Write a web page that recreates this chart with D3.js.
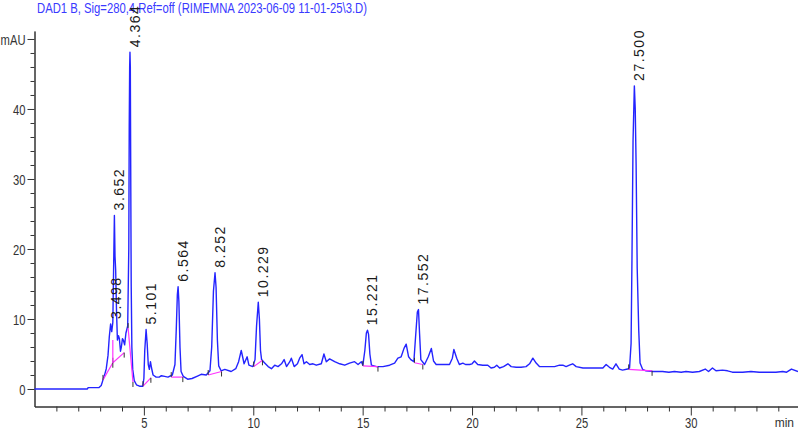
<!DOCTYPE html>
<html>
<head>
<meta charset="utf-8">
<script src="https://cdn.jsdelivr.net/npm/d3@7"></script>
<style>
  html, body { margin: 0; padding: 0; background: #ffffff; }
  svg { display: block; }
</style>
</head>
<body>
<svg id="chart" width="798" height="433"></svg>
<script>
// ---- DATA ----
const titleText = "DAD1 B, Sig=280,4 Ref=off (RIMEMNA 2023-06-09 11-01-25\\3.D)";
const xMajorTicks = [5, 10, 15, 20, 25, 30];
const yMajorTicks = [0, 10, 20, 30, 40, 50];
const yTopLabel = "mAU";
const xUnitLabel = "min";

// retention time (min)
const traceTime = [0, 1, 2, 2.42, 2.45, 2.95, 3.05, 3.13, 3.22, 3.28, 3.36, 3.42, 3.48, 3.53, 3.58, 3.62, 3.652, 3.68, 3.71, 3.75, 3.79, 3.84, 3.88, 3.93, 3.97, 4.02, 4.06, 4.12, 4.18, 4.26, 4.31, 4.33, 4.35, 4.364, 4.38, 4.40, 4.42, 4.45, 4.49, 4.56, 4.66, 4.8, 4.95, 5.0, 5.04, 5.101, 5.15, 5.2, 5.25, 5.3, 5.35, 5.42, 5.56, 5.7, 5.8, 5.95, 6.1, 6.3, 6.42, 6.48, 6.53, 6.564, 6.6, 6.65, 6.7, 6.8, 7.0, 7.2, 7.45, 7.62, 7.85, 8.02, 8.1, 8.18, 8.252, 8.3, 8.36, 8.42, 8.53, 8.7, 8.99, 9.2, 9.33, 9.45, 9.52, 9.58, 9.72, 9.8, 9.98, 10.08, 10.15, 10.229, 10.28, 10.33, 10.38, 10.5, 10.68, 10.83, 10.98, 11.13, 11.29, 11.41, 11.52, 11.67, 11.74, 11.87, 12.02, 12.12, 12.23, 12.32, 12.43, 12.58, 12.73, 12.88, 13.11, 13.23, 13.34, 13.49, 13.72, 13.95, 14.18, 14.4, 14.63, 14.79, 14.94, 15.01, 15.1, 15.17, 15.221, 15.27, 15.33, 15.4, 15.63, 15.93, 16.23, 16.46, 16.61, 16.76, 16.89, 16.99, 17.1, 17.2, 17.34, 17.42, 17.5, 17.552, 17.6, 17.66, 17.83, 18.0, 18.14, 18.24, 18.36, 18.67, 18.97, 19.1, 19.17, 19.3, 19.42, 19.58, 19.7, 19.89, 20.0, 20.11, 20.26, 20.49, 20.72, 20.87, 21.02, 21.13, 21.26, 21.44, 21.64, 21.79, 22.02, 22.24, 22.47, 22.63, 22.78, 22.93, 23.08, 23.39, 23.77, 24.0, 24.15, 24.3, 24.45, 24.6, 24.76, 25.07, 25.52, 25.98, 26.13, 26.28, 26.43, 26.58, 26.73, 26.88, 27.11, 27.2, 27.27, 27.31, 27.36, 27.42, 27.46, 27.5, 27.55, 27.62, 27.68, 27.8, 27.95, 28.25, 28.71, 29.0, 29.25, 29.56, 29.78, 30.08, 30.39, 30.66, 30.81, 30.99, 31.15, 31.45, 31.68, 31.9, 32.37, 32.75, 33.13, 33.5, 33.89, 34.2, 34.38, 34.6, 34.9];
// absorbance (mAU)
const traceSignal = [0, 0, 0, 0, 0.2, 0.2, 0.5, 1.3, 2.2, 2.9, 4.8, 7.5, 9.3, 8.2, 9.5, 18, 24.8, 19, 17.0, 11.0, 7.0, 7.6, 7.2, 5.4, 6.0, 7.2, 7.0, 6.3, 8.0, 9.0, 20, 37.5, 46, 48.1, 46, 30, 15, 6, 2.8, 1.2, 0.6, 0.4, 0.4, 1.5, 5.5, 8.5, 6.5, 3.5, 2.8, 3.9, 3.0, 2.0, 1.7, 1.7, 1.9, 1.8, 1.7, 2.0, 3.5, 8.5, 13.5, 14.6, 12.5, 6.0, 2.5, 1.8, 1.4, 1.5, 1.85, 2.1, 2.0, 2.6, 6.0, 14.0, 16.6, 14.5, 7.0, 3.3, 2.6, 2.8, 2.5, 2.9, 3.9, 5.5, 4.5, 3.6, 4.6, 3.4, 3.2, 4.2, 9.0, 12.4, 10.0, 5.5, 4.2, 3.8, 3.2, 2.9, 3.4, 3.2, 3.6, 4.2, 3.2, 3.9, 4.4, 3.2, 3.6, 4.4, 4.9, 3.6, 3.9, 3.5, 3.6, 3.4, 3.6, 5.0, 3.9, 4.3, 3.9, 3.6, 3.4, 3.7, 3.9, 3.5, 3.9, 3.4, 5.5, 8.0, 8.4, 7.8, 5.0, 3.4, 3.2, 3.2, 3.4, 3.7, 4.4, 4.6, 5.8, 6.4, 4.6, 4.2, 3.9, 7.5, 11.0, 11.35, 8.0, 4.2, 3.5, 4.6, 5.8, 4.0, 3.5, 3.5, 3.5, 4.4, 5.65, 4.4, 3.5, 3.7, 3.5, 3.5, 3.6, 4.0, 3.5, 3.4, 3.4, 3.0, 3.1, 3.4, 3.0, 3.2, 3.6, 3.2, 3.1, 3.1, 3.2, 3.6, 4.4, 3.7, 3.2, 3.2, 3.2, 3.4, 3.4, 3.2, 3.4, 3.6, 3.2, 3.0, 3.0, 3.0, 3.5, 3.1, 2.85, 3.6, 2.85, 2.7, 2.85, 3.0, 6.5, 18.4, 35.5, 43.3, 40, 32, 17.2, 8.4, 3.7, 2.8, 2.6, 2.5, 2.5, 2.4, 2.5, 2.4, 2.5, 2.4, 2.5, 2.85, 2.5, 3.0, 2.6, 2.7, 2.6, 2.4, 2.4, 2.5, 2.4, 2.4, 2.4, 2.5, 2.4, 2.85, 2.5];

// integrated peaks
const peakTimes = [3.498, 3.652, 4.364, 5.101, 6.564, 8.252, 10.229, 15.221, 17.552, 27.42];
const peakLabels = ["3.498", "3.652", "4.364", "5.101", "6.564", "8.252", "10.229", "15.221", "17.552", "27.500"];

// integration baselines: [tStart, vStart, tEnd, vEnd]
const baselineSegments = [
  [3.13, 1.3, 3.58, 3.75],
  [3.58, 3.75, 4.1, 5.2],
  [4.28, 8.7, 4.5, 1.0],
  [4.96, 0.4, 5.32, 1.6],
  [6.25, 1.7, 6.78, 1.7],
  [7.94, 2.0, 8.55, 2.5],
  [10.02, 3.2, 10.42, 4.1],
  [15.01, 3.3, 15.7, 3.2],
  [17.37, 3.75, 17.75, 3.5],
  [27.16, 2.8, 28.23, 2.6]
];
// vertical drop lines: [t, vLow, vHigh]
const dropLines = [[3.58, 3.75, 7.0]];

// ---- CHART ----
const svg = d3.select("#chart");
const x = d3.scaleLinear().domain([0, 34.9]).range([34.5, 798]);
const y = d3.scaleLinear().domain([-2.5, 51.14]).range([406.5, 31]);

const axisColor = "#333333";
const fontFam = "'Liberation Sans', Arial, sans-serif";

// squeeze a text horizontally to emulate a narrow face
function narrowText(sel, factor) {
  sel.each(function () {
    const w = this.getComputedTextLength();
    if (w > 0) {
      d3.select(this).attr("textLength", w * factor).attr("lengthAdjust", "spacingAndGlyphs");
    }
  });
}

// title
svg.append("text")
  .attr("x", 37).attr("y", 13)
  .attr("fill", "#3a3aff")
  .attr("font-family", fontFam)
  .attr("font-size", 14)
  .attr("textLength", 330)
  .attr("lengthAdjust", "spacingAndGlyphs")
  .text(titleText);

// y axis
const yMinor = d3.range(0, 50, 2).filter(d => d % 10 !== 0);
const gyMinor = svg.append("g").attr("transform", "translate(34.5,0)")
  .call(d3.axisLeft(y).tickValues(yMinor).tickSize(4).tickSizeOuter(0).tickFormat(""));
const gy = svg.append("g").attr("transform", "translate(34.5,0)")
  .call(d3.axisLeft(y).tickValues(yMajorTicks).tickSize(7).tickSizeOuter(0)
    .tickFormat(d => d === 50 ? yTopLabel : d));

// x axis
const xMinor = d3.range(1, 35, 1).filter(d => d % 5 !== 0);
const gxMinor = svg.append("g").attr("transform", "translate(0,406.5)")
  .call(d3.axisBottom(x).tickValues(xMinor).tickSize(5).tickSizeOuter(0).tickFormat(""));
const gx = svg.append("g").attr("transform", "translate(0,406.5)")
  .call(d3.axisBottom(x).tickValues(xMajorTicks).tickSize(9).tickSizeOuter(0));

[gyMinor, gy, gxMinor, gx].forEach(g => {
  g.selectAll("path.domain").attr("stroke", axisColor).attr("stroke-width", 1);
  g.selectAll(".tick line").attr("stroke", axisColor).attr("stroke-width", 1);
  g.selectAll(".tick text").attr("fill", "#333").attr("font-family", fontFam).attr("font-size", 14);
});
gy.selectAll(".tick text").attr("x", -9).attr("dy", "0.36em");
gx.selectAll(".tick text").attr("y", 12).attr("dy", "0.71em");
narrowText(gy.selectAll(".tick text"), 0.8);
narrowText(gx.selectAll(".tick text"), 0.8);

svg.append("text")
  .attr("x", 794).attr("y", 427)
  .attr("text-anchor", "end")
  .attr("fill", "#333")
  .attr("font-family", fontFam)
  .attr("font-size", 12)
  .text(xUnitLabel);

// trace
const tracePoints = traceTime.map((t, i) => [t, traceSignal[i]]);
const line = d3.line().x(d => x(d[0])).y(d => y(d[1]));
svg.append("path")
  .datum(tracePoints)
  .attr("d", line)
  .attr("fill", "none")
  .attr("stroke", "#2424ff")
  .attr("stroke-width", 1.4)
  .attr("stroke-linejoin", "round");

// baselines
const gb = svg.append("g");
baselineSegments.forEach(s => {
  gb.append("line")
    .attr("x1", x(s[0])).attr("y1", y(s[1]))
    .attr("x2", x(s[2])).attr("y2", y(s[3]))
    .attr("stroke", "#ff33ff").attr("stroke-width", 1.2);
  gb.append("line")
    .attr("x1", x(s[0])).attr("y1", y(s[1]))
    .attr("x2", x(s[0])).attr("y2", y(s[1]) - 5)
    .attr("stroke", "#333").attr("stroke-width", 1);
  gb.append("line")
    .attr("x1", x(s[2])).attr("y1", y(s[3]))
    .attr("x2", x(s[2])).attr("y2", y(s[3]) + 5)
    .attr("stroke", "#333").attr("stroke-width", 1);
});
dropLines.forEach(d => {
  gb.append("line")
    .attr("x1", x(d[0])).attr("y1", y(d[1]))
    .attr("x2", x(d[0])).attr("y2", y(d[2]))
    .attr("stroke", "#ff33ff").attr("stroke-width", 1.2);
});

// peak labels
function apexValue(t) {
  let best = -Infinity;
  tracePoints.forEach(p => { if (Math.abs(p[0] - t) <= 0.02 && p[1] > best) best = p[1]; });
  if (best === -Infinity) {
    const idx = d3.minIndex(tracePoints, p => Math.abs(p[0] - t));
    best = tracePoints[idx][1];
  }
  return best;
}
peakTimes.forEach((t, i) => {
  const px = x(t) + 10;
  const py = y(apexValue(t)) - 5;
  svg.append("text")
    .attr("transform", `translate(${px},${py}) rotate(-90)`)
    .attr("fill", "#1a1a1a")
    .attr("font-family", fontFam)
    .attr("font-size", 14)
    .attr("letter-spacing", 1.5)
    .text(peakLabels[i]);
});
</script>
</body>
</html>
